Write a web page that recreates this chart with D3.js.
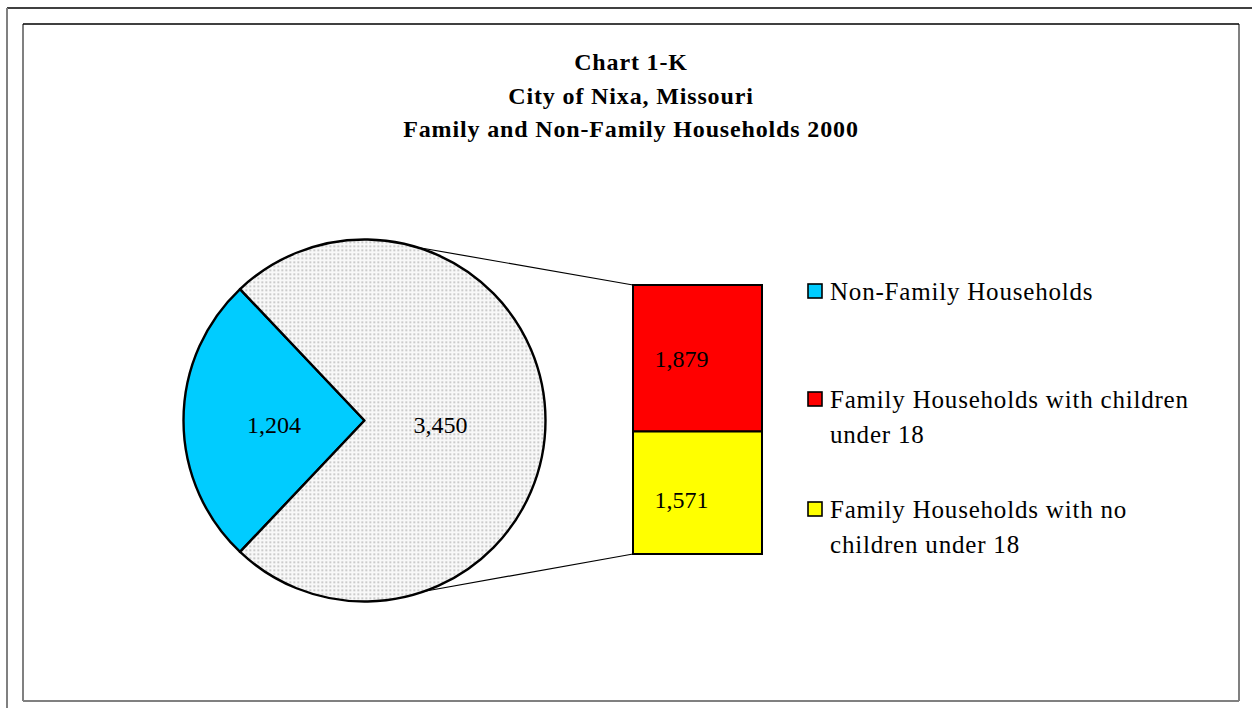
<!DOCTYPE html>
<html>
<head>
<meta charset="utf-8">
<script src="https://cdn.jsdelivr.net/npm/d3@7"></script>
<style>
  html, body { margin: 0; padding: 0; background: #fff; }
  svg { display: block; }
  text { font-family: "Liberation Serif", "Times New Roman", serif; fill: #000; }
</style>
</head>
<body>
<svg id="chart" width="1252" height="708"></svg>
<script>
// ---- data ----
const titleLines = ["Chart 1-K", "City of Nixa, Missouri", "Family and Non-Family Households 2000"];
const pieCategories = ["Non-Family Households", "Family Households"];
const pieValues = [1204, 3450];
const barCategories = ["Family Households with children under 18", "Family Households with no children under 18"];
const barValues = [1879, 1571];
const legendLabels = [
  ["Non-Family Households"],
  ["Family Households with children", "under 18"],
  ["Family Households with no", "children under 18"]
];
const colors = ["#00CCFF", "#FF0000", "#FFFF00"];

// ---- layout ----
const svg = d3.select("#chart");
const W = 1252, H = 708;

// pattern for the family slice
const defs = svg.append("defs");
const pat = defs.append("pattern").attr("id", "dots").attr("patternUnits", "userSpaceOnUse")
  .attr("width", 4).attr("height", 4);
pat.append("rect").attr("width", 4).attr("height", 4).attr("fill", "#f8f8f8");
pat.append("rect").attr("x", 1).attr("y", 1).attr("width", 1.5).attr("height", 1.5).attr("fill", "#a8a8a8");

// outer sheet lines
svg.append("line").attr("x1", 7).attr("x2", W).attr("y1", 8).attr("y2", 8).attr("stroke", "#000").attr("stroke-width", 1.5);
svg.append("line").attr("x1", 7).attr("x2", 7).attr("y1", 8).attr("y2", H).attr("stroke", "#808080").attr("stroke-width", 2);

// chart frame
svg.append("line").attr("x1", 23).attr("x2", 1239).attr("y1", 701).attr("y2", 701).attr("stroke", "#808080").attr("stroke-width", 2);
svg.append("line").attr("x1", 23).attr("x2", 23).attr("y1", 24).attr("y2", 701).attr("stroke", "#808080").attr("stroke-width", 2);
svg.append("line").attr("x1", 1239).attr("x2", 1239).attr("y1", 24).attr("y2", 701).attr("stroke", "#808080").attr("stroke-width", 2);
svg.append("line").attr("x1", 23).attr("x2", 1239).attr("y1", 24).attr("y2", 24).attr("stroke", "#000").attr("stroke-width", 1.5);

// title
svg.append("g").selectAll("text").data(titleLines).join("text")
  .attr("x", 631).attr("y", (d, i) => 70 + i * 33.7)
  .attr("text-anchor", "middle").attr("font-weight", "bold").attr("font-size", 24)
  .attr("letter-spacing", 0.85)
  .text(d => d);

// pie
const cx = 364.5, cy = 420.5, R = 181;
const total = d3.sum(pieValues);
const span0 = 2 * Math.PI * pieValues[0] / total;
const start = 1.5 * Math.PI - span0 / 2;
const pie = d3.pie().sort(null).startAngle(start).endAngle(start + 2 * Math.PI);
const arcs = pie(pieValues);
const arc = d3.arc().innerRadius(0).outerRadius(R);
const gPie = svg.append("g").attr("transform", `translate(${cx},${cy})`);

// bar (stacked column of the split slice)
const barX = 633, barW = 129, barTop = 285, barBottom = 554;
const y = d3.scaleLinear().domain([0, d3.sum(barValues)]).range([barTop, barBottom]);
const stacked = [];
let acc = 0;
barValues.forEach((v, i) => { stacked.push({ v, i, y0: acc, y1: acc + v }); acc += v; });

// connector lines
const aTop = 16.8 * Math.PI / 180, aBot = 160.6 * Math.PI / 180;
const pt = a => [cx + R * Math.sin(a), cy - R * Math.cos(a)];
const pTop = pt(aTop), pBot = pt(aBot);
svg.append("line").attr("x1", pTop[0]).attr("y1", pTop[1]).attr("x2", barX).attr("y2", y(0))
  .attr("stroke", "#000").attr("stroke-width", 1.2);
svg.append("line").attr("x1", pBot[0]).attr("y1", pBot[1]).attr("x2", barX).attr("y2", y(d3.sum(barValues)))
  .attr("stroke", "#000").attr("stroke-width", 1.2);

gPie.selectAll("path").data(arcs).join("path")
  .attr("d", arc)
  .attr("fill", (d, i) => i === 0 ? colors[0] : "url(#dots)")
  .attr("stroke", "#000").attr("stroke-width", 2.4).attr("stroke-linejoin", "round");

const labelR = [0.5 * R, 0.42 * R];
gPie.selectAll("text").data(arcs).join("text")
  .attr("x", (d, i) => d3.arc().innerRadius(labelR[i]).outerRadius(labelR[i]).centroid(d)[0])
  .attr("y", (d, i) => d3.arc().innerRadius(labelR[i]).outerRadius(labelR[i]).centroid(d)[1] + 12)
  .attr("text-anchor", "middle").attr("font-size", 24)
  .text(d => d3.format(",")(d.value));

const gBar = svg.append("g");
gBar.selectAll("rect").data(stacked).join("rect")
  .attr("x", barX).attr("y", d => y(d.y0)).attr("width", barW).attr("height", d => y(d.y1) - y(d.y0))
  .attr("fill", d => colors[d.i + 1]).attr("stroke", "#000").attr("stroke-width", 2);
gBar.selectAll("text").data(stacked).join("text")
  .attr("x", barX + barW / 2 - 16)
  .attr("y", d => (y(d.y0) + y(d.y1)) / 2 + 9 + d.i * 6)
  .attr("text-anchor", "middle").attr("font-size", 24)
  .text(d => d3.format(",")(d.v));

// legend
const legendY = [300, 408, 518];
const gLeg = svg.append("g");
legendLabels.forEach((lines, i) => {
  gLeg.append("rect").attr("x", 808).attr("y", legendY[i] - 16).attr("width", 14).attr("height", 14)
    .attr("fill", colors[i]).attr("stroke", "#000").attr("stroke-width", 1.6);
  lines.forEach((t, j) => {
    gLeg.append("text").attr("x", 830).attr("y", legendY[i] + j * 34.5)
      .attr("font-size", 25).attr("letter-spacing", 0.8).text(t);
  });
});
</script>
</body>
</html>
